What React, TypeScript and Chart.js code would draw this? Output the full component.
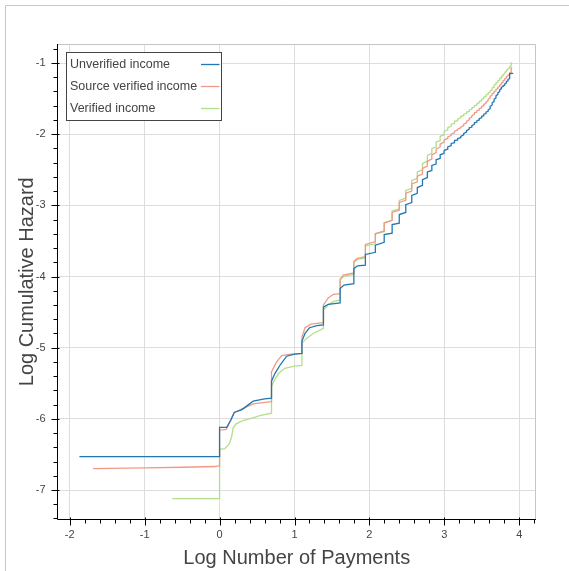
import React, { useEffect, useRef } from 'react';
import { Chart, registerables } from 'chart.js';
Chart.register(...registerables);

const FONT = "'Liberation Sans', Arial, Helvetica, sans-serif";

const seriesNames = ['Unverified income', 'Source verified income', 'Verified income'];
const seriesColors = ['#1f78b4', '#f09a86', '#b2df8a'];

const xTitle = 'Log Number of Payments';
const yTitle = 'Log Cumulative Hazard';

const xRange = [-2.163, 4.223];
const yRange = [-7.4145, -0.733];

// [log number of payments, log cumulative hazard]
const unverified: number[][] = [
  [-1.87, -6.53], [0, -6.53], [0, -6.12], [0.095, -6.12], [0.15, -6.02], [0.196, -5.91], [0.3, -5.87], [0.4, -5.79], [0.45, -5.75], [0.6, -5.72], [0.693, -5.71],
  [0.693, -5.47], [0.74, -5.36], [0.81, -5.24], [0.895, -5.12], [1.0, -5.09], [1.099, -5.08],
  [1.099, -4.91], [1.14, -4.8], [1.2, -4.72], [1.3, -4.69], [1.386, -4.68],
  [1.386, -4.43], [1.45, -4.39], [1.609, -4.37],
  [1.609, -4.17], [1.66, -4.12], [1.792, -4.1],
  [1.792, -3.89], [1.84, -3.85], [1.946, -3.84],
  [1.946, -3.69], [2.079, -3.66],
  [2.079, -3.56], [2.197, -3.52],
  [2.197, -3.41], [2.303, -3.39],
  [2.303, -3.27], [2.398, -3.25],
  [2.398, -3.13], [2.485, -3.1],
  [2.485, -2.99], [2.565, -2.96],
  [2.565, -2.86], [2.639, -2.83],
  [2.639, -2.75], [2.708, -2.72],
  [2.708, -2.64], [2.773, -2.61],
  [2.773, -2.53], [2.833, -2.51],
  [2.833, -2.44], [2.89, -2.42],
  [2.89, -2.36], [2.944, -2.34],
  [2.944, -2.29], [2.996, -2.27],
  [2.996, -2.23], [3.045, -2.21],
  [3.045, -2.18], [3.091, -2.16],
  [3.091, -2.13], [3.135, -2.12],
  [3.135, -2.09], [3.178, -2.08],
  [3.178, -2.06], [3.219, -2.05],
  [3.219, -2.03], [3.258, -2.01],
  [3.258, -1.99], [3.296, -1.97],
  [3.296, -1.95], [3.332, -1.93],
  [3.332, -1.91], [3.367, -1.9],
  [3.367, -1.88], [3.401, -1.86],
  [3.401, -1.84], [3.434, -1.83],
  [3.434, -1.81], [3.466, -1.8],
  [3.466, -1.78], [3.497, -1.77],
  [3.497, -1.75], [3.526, -1.74],
  [3.526, -1.72], [3.555, -1.71],
  [3.555, -1.69], [3.584, -1.68],
  [3.584, -1.66], [3.611, -1.64],
  [3.611, -1.61], [3.638, -1.59],
  [3.638, -1.56], [3.664, -1.54],
  [3.664, -1.51], [3.689, -1.49],
  [3.689, -1.46], [3.714, -1.44],
  [3.714, -1.42], [3.738, -1.4],
  [3.738, -1.38], [3.761, -1.36],
  [3.761, -1.34], [3.784, -1.33],
  [3.784, -1.32], [3.807, -1.31],
  [3.807, -1.29], [3.829, -1.28],
  [3.829, -1.26], [3.85, -1.25],
  [3.85, -1.23], [3.871, -1.22],
  [3.871, -1.15], [3.92, -1.145],
];

const sourceVerified: number[][] = [
  [-1.69, -6.7], [-1.0, -6.69], [-0.5, -6.68], [-0.06, -6.67], [-0.01, -6.66], [0, -6.66],
  [0, -6.16], [0.09, -6.15], [0.15, -6.01], [0.196, -5.91], [0.3, -5.86], [0.45, -5.79], [0.6, -5.77], [0.693, -5.76],
  [0.693, -5.34], [0.76, -5.2], [0.83, -5.11], [0.95, -5.09], [1.099, -5.08],
  [1.099, -4.85], [1.14, -4.72], [1.22, -4.67], [1.386, -4.65],
  [1.386, -4.4], [1.45, -4.3], [1.52, -4.25], [1.609, -4.24],
  [1.609, -4.05], [1.65, -3.98], [1.792, -3.95],
  [1.792, -3.79], [1.83, -3.75], [1.946, -3.72],
  [1.946, -3.55], [2.079, -3.51],
  [2.079, -3.4], [2.197, -3.36],
  [2.197, -3.25], [2.303, -3.21],
  [2.303, -3.1], [2.398, -3.07],
  [2.398, -2.96], [2.485, -2.93],
  [2.485, -2.83], [2.565, -2.8],
  [2.565, -2.7], [2.639, -2.67],
  [2.639, -2.59], [2.708, -2.56],
  [2.708, -2.48], [2.773, -2.45],
  [2.773, -2.38], [2.833, -2.35],
  [2.833, -2.29], [2.89, -2.26],
  [2.89, -2.21], [2.944, -2.18],
  [2.944, -2.14], [2.996, -2.11],
  [2.996, -2.08], [3.045, -2.06],
  [3.045, -2.04], [3.091, -2.02],
  [3.091, -2.0], [3.135, -1.98],
  [3.135, -1.96], [3.178, -1.94],
  [3.178, -1.93], [3.219, -1.91],
  [3.219, -1.9], [3.258, -1.88],
  [3.258, -1.86], [3.296, -1.84],
  [3.296, -1.82], [3.332, -1.8],
  [3.332, -1.78], [3.367, -1.76],
  [3.367, -1.74], [3.401, -1.72],
  [3.401, -1.7], [3.434, -1.69],
  [3.434, -1.67], [3.466, -1.66],
  [3.466, -1.64], [3.497, -1.63],
  [3.497, -1.61], [3.526, -1.6],
  [3.526, -1.58], [3.555, -1.57],
  [3.555, -1.55], [3.584, -1.53],
  [3.584, -1.51], [3.611, -1.49],
  [3.611, -1.47], [3.638, -1.45],
  [3.638, -1.43], [3.664, -1.42],
  [3.664, -1.4], [3.689, -1.39],
  [3.689, -1.37], [3.714, -1.36],
  [3.714, -1.34], [3.738, -1.33],
  [3.738, -1.31], [3.761, -1.3],
  [3.761, -1.28], [3.784, -1.27],
  [3.784, -1.25], [3.807, -1.24],
  [3.807, -1.22], [3.829, -1.21],
  [3.829, -1.19], [3.85, -1.18],
  [3.85, -1.17], [3.871, -1.16],
  [3.871, -1.14], [3.892, -1.13],
  [3.892, -1.07], [3.905, -1.07],
];

const verified: number[][] = [
  [-0.63, -7.12], [0, -7.12],
  [0, -6.43], [0.07, -6.42], [0.13, -6.35], [0.16, -6.26], [0.18, -6.13], [0.22, -6.07], [0.3, -6.03], [0.4, -6.0], [0.55, -5.95], [0.693, -5.92],
  [0.693, -5.55], [0.73, -5.46], [0.79, -5.36], [0.87, -5.29], [1.0, -5.26], [1.099, -5.25],
  [1.099, -4.94], [1.16, -4.87], [1.25, -4.8], [1.386, -4.73],
  [1.386, -4.47], [1.45, -4.4], [1.52, -4.35], [1.609, -4.33],
  [1.609, -4.03], [1.68, -3.99], [1.792, -3.97],
  [1.792, -3.8], [1.85, -3.76], [1.946, -3.74],
  [1.946, -3.57], [2.079, -3.54],
  [2.079, -3.4], [2.197, -3.37],
  [2.197, -3.24], [2.303, -3.21],
  [2.303, -3.08], [2.398, -3.05],
  [2.398, -2.93], [2.485, -2.9],
  [2.485, -2.79], [2.565, -2.76],
  [2.565, -2.65], [2.639, -2.62],
  [2.639, -2.53], [2.708, -2.5],
  [2.708, -2.41], [2.773, -2.38],
  [2.773, -2.3], [2.833, -2.27],
  [2.833, -2.2], [2.89, -2.18],
  [2.89, -2.11], [2.944, -2.09],
  [2.944, -2.03], [2.996, -2.01],
  [2.996, -1.96], [3.045, -1.94],
  [3.045, -1.91], [3.091, -1.89],
  [3.091, -1.86], [3.135, -1.85],
  [3.135, -1.82], [3.178, -1.81],
  [3.178, -1.79], [3.219, -1.77],
  [3.219, -1.75], [3.258, -1.74],
  [3.258, -1.72], [3.296, -1.71],
  [3.296, -1.69], [3.332, -1.68],
  [3.332, -1.66], [3.367, -1.65],
  [3.367, -1.63], [3.401, -1.62],
  [3.401, -1.6], [3.434, -1.59],
  [3.434, -1.57], [3.466, -1.56],
  [3.466, -1.54], [3.497, -1.53],
  [3.497, -1.51], [3.526, -1.5],
  [3.526, -1.48], [3.555, -1.47],
  [3.555, -1.45], [3.584, -1.44],
  [3.584, -1.42], [3.611, -1.41],
  [3.611, -1.39], [3.638, -1.38],
  [3.638, -1.35], [3.664, -1.34],
  [3.664, -1.31], [3.689, -1.3],
  [3.689, -1.28], [3.714, -1.27],
  [3.714, -1.25], [3.738, -1.24],
  [3.738, -1.22], [3.761, -1.21],
  [3.761, -1.19], [3.784, -1.18],
  [3.784, -1.16], [3.807, -1.15],
  [3.807, -1.13], [3.829, -1.12],
  [3.829, -1.1], [3.85, -1.09],
  [3.85, -1.08], [3.871, -1.07],
  [3.871, -1.05], [3.892, -1.04],
  [3.892, -1.0], [3.905, -1.0],
];

const seriesData = [unverified, sourceVerified, verified];

const bokehPlugin = {
  id: 'bokehLook',
  beforeDraw(chart: any) {
    const ctx = chart.ctx;
    ctx.save();
    ctx.fillStyle = '#ffffff';
    ctx.fillRect(0, 0, chart.width, chart.height);
    ctx.strokeStyle = '#c8c8c8';
    ctx.lineWidth = 1;
    ctx.beginPath();
    ctx.moveTo(5.5, chart.height);
    ctx.lineTo(5.5, 5.5);
    ctx.lineTo(chart.width, 5.5);
    ctx.stroke();
    ctx.restore();
  },
  afterDraw(chart: any) {
    const ctx = chart.ctx;
    const a = chart.chartArea;
    const xs = chart.scales.x;
    const ys = chart.scales.y;
    ctx.save();
    ctx.strokeStyle = '#c4c4c4';
    ctx.lineWidth = 1;
    ctx.beginPath();
    ctx.moveTo(a.left, Math.floor(a.top) + 0.5);
    ctx.lineTo(Math.floor(a.right) - 0.5, Math.floor(a.top) + 0.5);
    ctx.lineTo(Math.floor(a.right) - 0.5, a.bottom);
    ctx.stroke();
    const ax = Math.floor(a.left) + 0.5;
    const ay = Math.floor(a.bottom) + 0.5;
    ctx.strokeStyle = '#000';
    ctx.beginPath();
    ctx.moveTo(ax, a.top);
    ctx.lineTo(ax, ay);
    ctx.lineTo(a.right, ay);
    ctx.stroke();
    ctx.beginPath();
    for (let k = -11; k <= 21; k++) {
      const v = k / 5;
      if (v < xs.min || v > xs.max) continue;
      const px = Math.round(xs.getPixelForValue(v)) + 0.5;
      const major = k % 5 === 0;
      ctx.moveTo(px, major ? ay - 2 : ay);
      ctx.lineTo(px, ay + (major ? 6 : 4));
    }
    for (let k = -38; k <= -3; k++) {
      const v = k / 5;
      if (v < ys.min || v > ys.max) continue;
      const py = Math.round(ys.getPixelForValue(v)) + 0.5;
      const major = k % 5 === 0;
      ctx.moveTo(ax - (major ? 6 : 4), py);
      ctx.lineTo(major ? ax + 2 : ax, py);
    }
    ctx.stroke();
    const lx = 66.5, ly = 52.5, lw = 155, lh = 68;
    ctx.fillStyle = '#ffffff';
    ctx.fillRect(lx, ly, lw, lh);
    ctx.strokeStyle = '#444444';
    ctx.strokeRect(lx, ly, lw, lh);
    ctx.font = `12.5px ${FONT}`;
    ctx.textBaseline = 'middle';
    ctx.textAlign = 'left';
    for (let i = 0; i < seriesNames.length; i++) {
      const ty = 64.5 + i * 22;
      ctx.fillStyle = '#444444';
      ctx.fillText(seriesNames[i], 70, ty);
      ctx.strokeStyle = seriesColors[i];
      ctx.lineWidth = 1.3;
      ctx.beginPath();
      ctx.moveTo(201, ty);
      ctx.lineTo(219.5, ty);
      ctx.stroke();
    }
    ctx.restore();
  },
};

export default function App() {
  const ref = useRef<HTMLCanvasElement>(null);
  useEffect(() => {
    if (!ref.current) return;
    const chart = new Chart(ref.current, {
      type: 'line',
      data: {
        datasets: seriesData.map((pts, i) => ({
          label: seriesNames[i],
          data: pts.map((p) => ({ x: p[0], y: p[1] })),
          borderColor: seriesColors[i],
          backgroundColor: seriesColors[i],
          borderWidth: 1.3,
          pointRadius: 0,
          tension: 0,
          fill: false,
        })),
      },
      options: {
        responsive: false,
        animation: false,
        layout: { padding: { left: 0, top: 44, right: 33, bottom: 0 } },
        plugins: { legend: { display: false }, tooltip: { enabled: false } },
        scales: {
          x: {
            type: 'linear',
            min: xRange[0],
            max: xRange[1],
            afterFit: (s: any) => { s.height = 51.5; },
            ticks: { stepSize: 1, includeBounds: false, padding: 9, color: '#444444', font: { family: FONT, size: 11 }, maxRotation: 0 },
            grid: { color: '#dedede', lineWidth: 1, drawTicks: false },
            border: { display: false },
            title: { display: true, text: xTitle, color: '#444444', font: { family: FONT, size: 20 }, padding: { top: 0, bottom: 1 } },
          },
          y: {
            type: 'linear',
            min: yRange[0],
            max: yRange[1],
            afterFit: (s: any) => { s.width = 57.5; },
            ticks: { stepSize: 1, includeBounds: false, padding: 12, color: '#444444', font: { family: FONT, size: 11 } },
            grid: { color: '#dedede', lineWidth: 1, drawTicks: false },
            border: { display: false },
            title: { display: true, text: yTitle, color: '#444444', font: { family: FONT, size: 20 }, padding: { top: 15, bottom: 0 } },
          },
        },
      } as any,
      plugins: [bokehPlugin],
    });
    return () => chart.destroy();
  }, []);
  return (
    <div style={{ position: 'fixed', left: 0, top: 0, width: 569, height: 571, background: '#fff', overflow: 'hidden' }}>
      <canvas ref={ref} width={569} height={571} style={{ display: 'block' }} />
    </div>
  );
}
